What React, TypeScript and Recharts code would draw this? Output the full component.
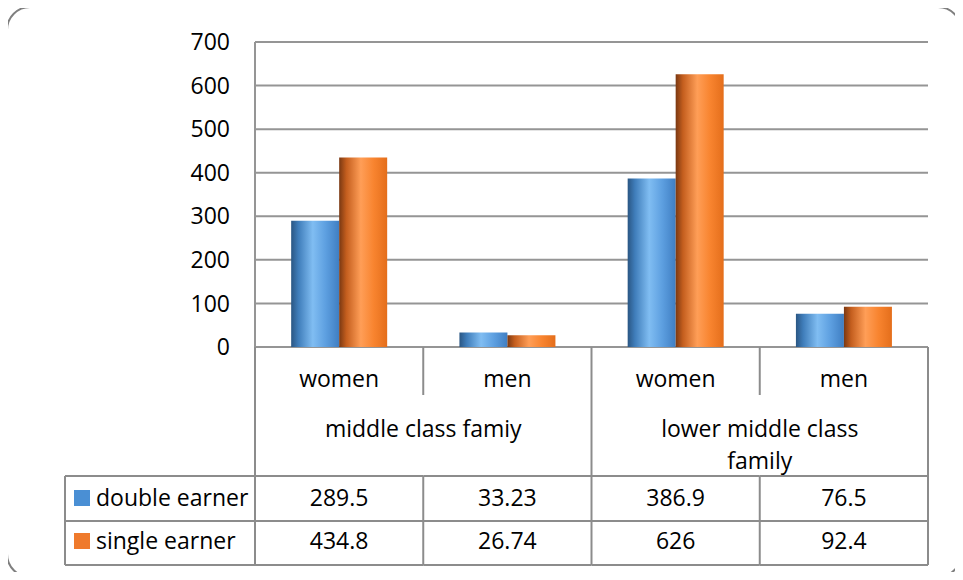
import React from "react";
import { BarChart, Bar, XAxis, YAxis, CartesianGrid } from "recharts";

const categories = ["women", "men", "women", "men"];
const groupNames = ["middle class famiy", "lower middle class family"];
const groupLabelLines = [["middle class famiy"], ["lower middle class", "family"]];
const doubleEarner = [289.5, 33.23, 386.9, 76.5];
const singleEarner = [434.8, 26.74, 626, 92.4];
const seriesNames = ["double earner", "single earner"];
const yTicks = [0, 100, 200, 300, 400, 500, 600, 700];

const data = categories.map((c, i) => ({
  gender: c,
  group: groupNames[Math.floor(i / 2)],
  double: doubleEarner[i],
  single: singleEarner[i],
}));

const W = 963;
const H = 580;
const PLOT_LEFT = 255;
const PLOT_RIGHT = 928;
const BW = (PLOT_RIGHT - PLOT_LEFT) / categories.length;
const GENDER_H = 48;
const GROUP_H = 81;
const ROW1_H = 45;
const ROW2_H = 44;
const TABLE_LEFT = 65;
const LINE = "#8c8c8c";
const LW = 2;
const FONT = "'Open Sans', Lato, sans-serif";
const FS = 23;

const GenderTick = (p: any) => {
  const { x, y, index, payload } = p;
  const left = x - BW / 2;
  const tall = index % 2 === 0;
  return (
    <g>
      <line x1={left} x2={left} y1={y} y2={y + (tall ? GENDER_H + GROUP_H : GENDER_H)} stroke={LINE} strokeWidth={LW} />
      {index === categories.length - 1 && (
        <line x1={left + BW} x2={left + BW} y1={y} y2={y + GENDER_H + GROUP_H} stroke={LINE} strokeWidth={LW} />
      )}
      <text x={x} y={y + 40} textAnchor="middle" fontFamily={FONT} fontSize={FS} fill="#000">
        {payload.value}
      </text>
    </g>
  );
};

const GroupTick = (p: any) => {
  const { x, y, index } = p;
  if (index % 2 !== 0) return <g />;
  const lines = groupLabelLines[Math.floor(index / 2)];
  return (
    <text x={x + BW / 2} y={y + 42} textAnchor="middle" fontFamily={FONT} fontSize={FS} fill="#000">
      {lines.map((l, i) => (
        <tspan key={i} x={x + BW / 2} dy={i === 0 ? 0 : 32}>
          {l}
        </tspan>
      ))}
    </text>
  );
};

const makeRowTick = (rowH: number, seriesIdx: number, color: string, baseline: number) => (p: any) => {
  const { x, y, index, payload } = p;
  const left = x - BW / 2;
  return (
    <g>
      <line x1={left} x2={left + BW} y1={y} y2={y} stroke={LINE} strokeWidth={LW} />
      <line x1={left} x2={left + BW} y1={y + rowH} y2={y + rowH} stroke={LINE} strokeWidth={LW} />
      <line x1={left} x2={left} y1={y} y2={y + rowH} stroke={LINE} strokeWidth={LW} />
      {index === categories.length - 1 && (
        <line x1={left + BW} x2={left + BW} y1={y} y2={y + rowH} stroke={LINE} strokeWidth={LW} />
      )}
      {index === 0 && (
        <g>
          <line x1={TABLE_LEFT} x2={left} y1={y} y2={y} stroke={LINE} strokeWidth={LW} />
          <line x1={TABLE_LEFT} x2={left} y1={y + rowH} y2={y + rowH} stroke={LINE} strokeWidth={LW} />
          <line x1={TABLE_LEFT} x2={TABLE_LEFT} y1={y} y2={y + rowH} stroke={LINE} strokeWidth={LW} />
          <rect x={TABLE_LEFT + 9} y={y + baseline - 16} width={16} height={16} fill={color} />
          <text x={TABLE_LEFT + 31} y={y + baseline} fontFamily={FONT} fontSize={FS} fill="#000">
            {seriesNames[seriesIdx]}
          </text>
        </g>
      )}
      <text x={x} y={y + baseline} textAnchor="middle" fontFamily={FONT} fontSize={FS} fill="#000">
        {payload.value}
      </text>
    </g>
  );
};

const DoubleTick = makeRowTick(ROW1_H, 0, "#4a8fd4", 30);
const SingleTick = makeRowTick(ROW2_H, 1, "#ef7a2c", 28);

const axisCommon = {
  interval: 0 as const,
  tickLine: false,
  axisLine: false,
  tickSize: 0,
  tickMargin: 0,
};

export default function App() {
  return (
    <div style={{ position: "relative", width: W, height: H, margin: -8, background: "#fff" }}>
      <div
        style={{
          position: "absolute",
          left: 6,
          top: 6,
          width: 956,
          height: 572,
          border: "2px solid #7f7f7f",
          borderRadius: 24,
          boxSizing: "border-box",
        }}
      />
      <BarChart
        width={W}
        height={H}
        data={data}
        margin={{ top: 42, right: W - PLOT_RIGHT, left: 0, bottom: 15 }}
        barCategoryGap="21.5%"
        barGap={0}
        style={{ position: "absolute", left: 0, top: 0 }}
      >
        <defs>
          <linearGradient id="blueGrad" x1="0" y1="0" x2="1" y2="0">
            <stop offset="0%" stopColor="#2a5683" />
            <stop offset="15%" stopColor="#3f7dba" />
            <stop offset="45%" stopColor="#80bdf2" />
            <stop offset="72%" stopColor="#5d9fe0" />
            <stop offset="100%" stopColor="#3f7ec2" />
          </linearGradient>
          <linearGradient id="orangeGrad" x1="0" y1="0" x2="1" y2="0">
            <stop offset="0%" stopColor="#7a3812" />
            <stop offset="15%" stopColor="#c45e1e" />
            <stop offset="45%" stopColor="#ff9e57" />
            <stop offset="72%" stopColor="#f8842f" />
            <stop offset="100%" stopColor="#e46e1b" />
          </linearGradient>
        </defs>
        <CartesianGrid vertical={false} stroke="#959595" strokeWidth={2} />
        <XAxis xAxisId="x0" dataKey="gender" height={GENDER_H} {...axisCommon} tick={<GenderTick />} />
        <XAxis xAxisId="x1" dataKey="group" height={GROUP_H} {...axisCommon} tick={<GroupTick />} />
        <XAxis xAxisId="x2" dataKey="double" height={ROW1_H} {...axisCommon} tick={<DoubleTick />} />
        <XAxis xAxisId="x3" dataKey="single" height={ROW2_H} {...axisCommon} tick={<SingleTick />} />
        <YAxis
          width={PLOT_LEFT}
          domain={[0, 700]}
          ticks={yTicks}
          interval={0}
          tickLine={false}
          tickSize={0}
          tickMargin={25}
          axisLine={{ stroke: "#959595", strokeWidth: 2 }}
          tick={{ fontFamily: FONT, fontSize: FS, fill: "#000" }}
        />
        <Bar xAxisId="x0" dataKey="double" name={seriesNames[0]} fill="url(#blueGrad)" isAnimationActive={false} />
        <Bar xAxisId="x0" dataKey="single" name={seriesNames[1]} fill="url(#orangeGrad)" isAnimationActive={false} />
      </BarChart>
    </div>
  );
}
